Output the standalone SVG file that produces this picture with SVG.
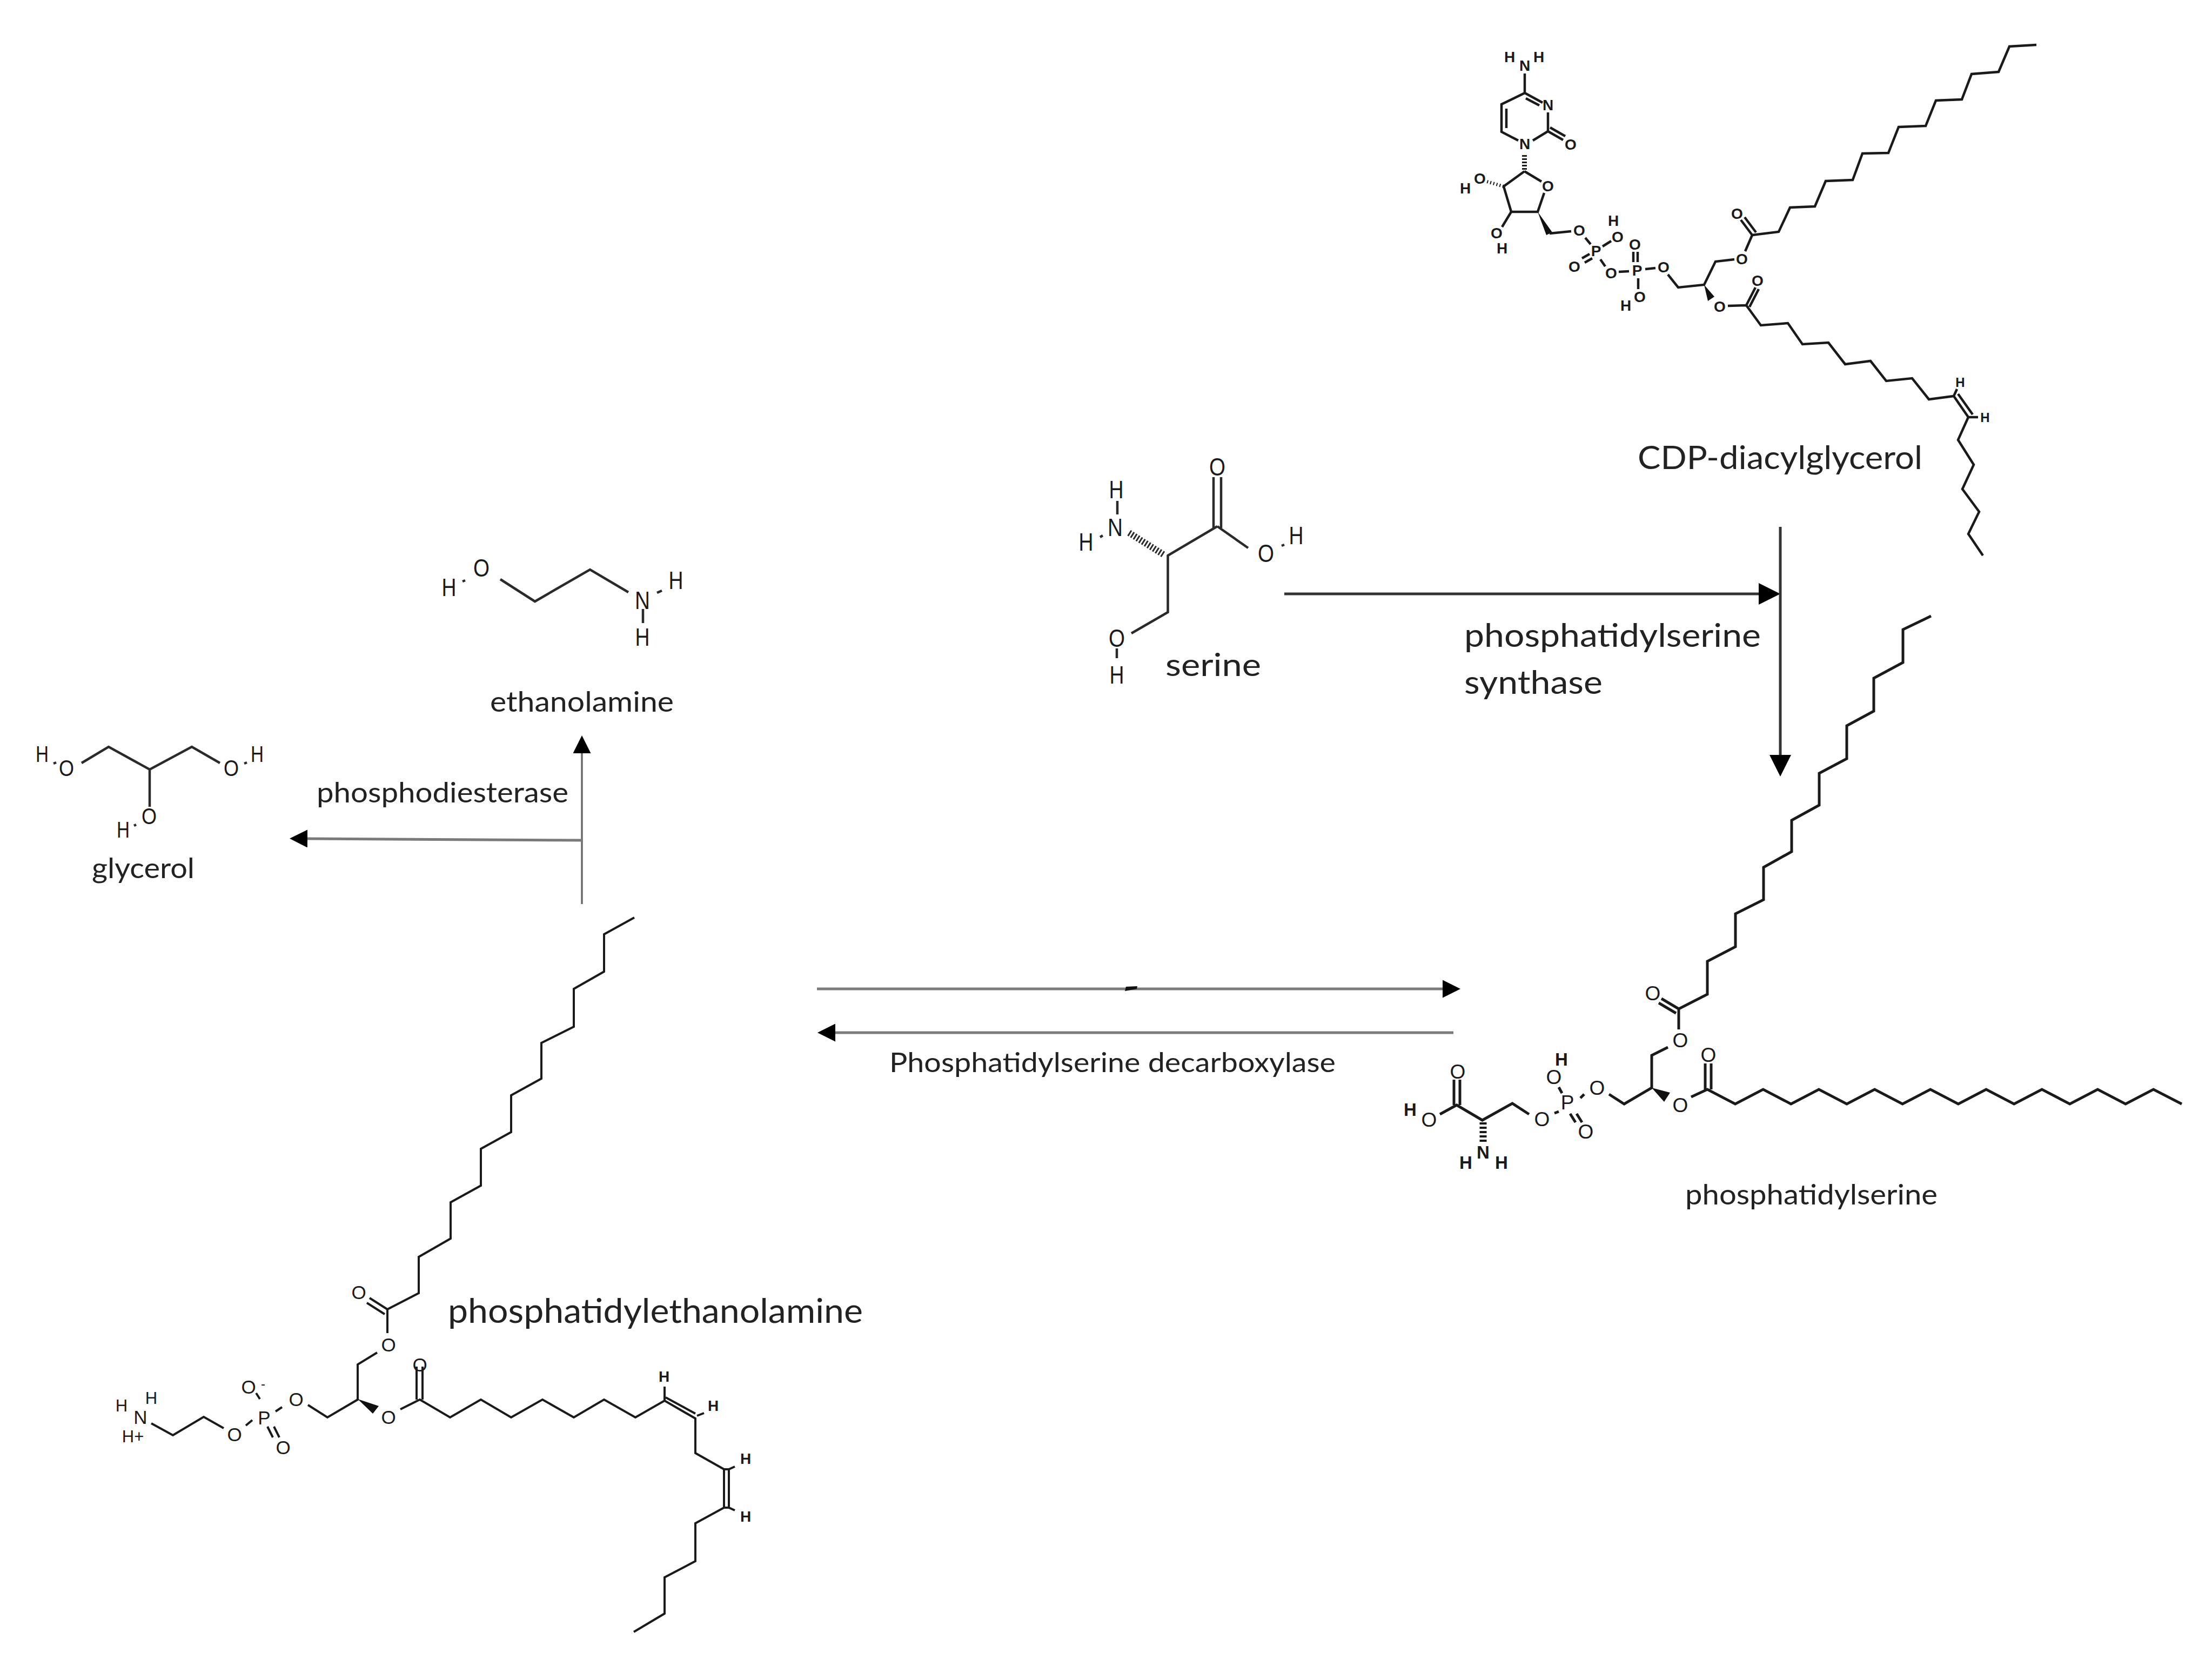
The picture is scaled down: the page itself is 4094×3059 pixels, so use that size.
<svg xmlns="http://www.w3.org/2000/svg" width="4094" height="3059" viewBox="0 0 4094 3059">
<defs>
<marker id="headBig" markerUnits="userSpaceOnUse" viewBox="0 0 40 40" markerWidth="40" markerHeight="40" refX="0" refY="20" orient="auto"><path d="M0 0L40 20L0 40Z" fill="#000"/></marker>
<marker id="headSmall" markerUnits="userSpaceOnUse" viewBox="0 0 33 33" markerWidth="33" markerHeight="33" refX="0" refY="16.5" orient="auto"><path d="M0 0L33 16.5L0 33Z" fill="#000"/></marker>
</defs>
<style>
.bg{fill:#fff}
.b{fill:none;stroke:#1a1a1a;stroke-linejoin:miter;stroke-linecap:butt}
.cdp .b{stroke-width:4.5}
.ps .b{stroke-width:5}
.pe .b{stroke-width:4}
.sm .b{stroke-width:4.5;stroke:#2a2a2a}
.w{fill:#111;stroke:none}
.a{font-family:"Liberation Sans",Arial,sans-serif;text-anchor:middle;dominant-baseline:central;fill:#1a1a1a}
.cdp .a{font-size:28px;font-weight:bold}
.ps .a{font-size:37px}
.pe .a{font-size:35px}
.sm .a{font-size:47px}
.lab{font-family:Lato,"Open Sans",sans-serif;fill:#222}
.c1{fill:none;stroke:#333;stroke-width:5}
.c2{fill:none;stroke:#7a7a7a;stroke-width:5}
.c3{fill:none;stroke:#6a6a6a;stroke-width:3.5}
</style>
<rect class="bg" width="4094" height="3059"/>

<g id="connectors">
<line class="c1" x1="2377" y1="1099" x2="3255" y2="1099" marker-end="url(#headBig)"/>
<line class="c1" x1="3295" y1="975" x2="3295" y2="1397" marker-end="url(#headBig)"/>
<line class="c2" x1="1512" y1="1830" x2="2670" y2="1830" marker-end="url(#headSmall)"/>
<path d="M2082 1834L2084 1826L2105 1825L2104 1830Z" fill="#111"/>
<line class="c2" x1="2690" y1="1911" x2="1546" y2="1911" marker-end="url(#headSmall)"/>
<line class="c3" x1="1077" y1="1673" x2="1077" y2="1394" marker-end="url(#headSmall)"/>
<line class="c2" x1="1079" y1="1555" x2="569" y2="1552" marker-end="url(#headSmall)"/>
</g>

<g id="cdp-diacylglycerol" class="cdp">
<path class="b" d="M2822 136V172L2779 193V244L2810 260M2788 201V237M2822 172L2855 190M2824 182L2849 195M2865 208V243L2837 260M2865 243L2893 259M2869 236L2897 252"/>
<path class="b" d="M2821.5 317L2783 345L2797 392H2846L2858 357M2821.5 317L2853 336"/>
<path class="b" stroke-dasharray="3 3" style="stroke-width:9" d="M2821.5 287V317"/>
<path class="b" stroke-dasharray="2 4" style="stroke-width:6" d="M2783 345L2752 336"/>
<path class="b" d="M2797 392L2780 420"/>
<path class="w" d="M2846 392L2862 435L2873 430Z"/>
<path class="b" d="M2868 432L2908 428M2934 440L2944 452M2966 456L2982 446M2928 478L2942 470M2933 486L2947 478M2962 480L2971 493M2996 503L3015 502M3023 466V485M3031 466V485M3045 498L3064 496M3032 515V535M3087 508L3106 532L3154 527L3175 484L3210 480M3230 465L3243 435M3243 435L3222 407M3250 430L3229 402"/>
<path class="w" d="M3154 527L3161 557L3173 549Z"/>
<path class="b" d="M3243 435L3292 429L3313 384L3359 382L3379 335L3429 333L3447 284L3495 283L3514 235L3564 233L3583 186L3631 184L3649 137L3699 133L3719 86L3769 83"/>
<path class="b" d="M3198 566L3232 565L3259 602L3309 598L3336 637L3384 634L3415 674L3462 668L3491 705L3539 700L3570 739L3616 733L3643 772L3624 814L3653 860L3632 905L3663 947L3643 988L3670 1028M3232 565L3249 532M3238 568L3255 535M3624 729L3651 767M3616 733L3622 720M3643 772L3661 772"/>
<text class="a" x="2794" y="105">H</text><text class="a" x="2848" y="105">H</text><text class="a" x="2822" y="121">N</text>
<text class="a" x="2865" y="194">N</text><text class="a" x="2822" y="266">N</text><text class="a" x="2907" y="267">O</text>
<text class="a" x="2865" y="344">O</text><text class="a" x="2739" y="330">O</text><text class="a" x="2712" y="348">H</text>
<text class="a" x="2770" y="431">O</text><text class="a" x="2780" y="459">H</text><text class="a" x="2923" y="426">O</text>
<text class="a" x="2954" y="464">P</text><text class="a" x="2994" y="438">O</text><text class="a" x="2986" y="408">H</text>
<text class="a" x="2914" y="493">O</text><text class="a" x="2982" y="505">O</text><text class="a" x="3030" y="500">P</text>
<text class="a" x="3026" y="452">O</text><text class="a" x="3079" y="494">O</text><text class="a" x="3035" y="549">O</text>
<text class="a" x="3009" y="565">H</text><text class="a" x="3224" y="479">O</text><text class="a" x="3215" y="395">O</text>
<text class="a" x="3183" y="567">O</text><text class="a" x="3253" y="519">O</text>
<text class="a" x="3628" y="707" style="font-size:24px">H</text><text class="a" x="3674" y="772" style="font-size:24px">H</text>
<text class="lab" x="3031" y="868" font-size="60" textLength="527" lengthAdjust="spacingAndGlyphs">CDP-diacylglycerol</text>
</g>

<g id="serine" class="sm">
<path class="b" d="M2246 883V977M2260 883V977"/>
<path class="b" d="M2253 974L2161.5 1028V1133L2094 1172M2253 974L2310 1014M2068 927V952M2067 1200V1218"/>
<path class="b" stroke-dasharray="3 3" style="stroke-width:12" d="M2153 1026L2088 985"/>
<path class="b" d="M2036 994L2041 991M2372 1010L2377 1008"/>
<text class="a" x="2253" y="863" textLength="30" lengthAdjust="spacingAndGlyphs">O</text><text class="a" x="2343" y="1023" textLength="30" lengthAdjust="spacingAndGlyphs">O</text><text class="a" x="2399" y="990" textLength="27" lengthAdjust="spacingAndGlyphs">H</text>
<text class="a" x="2067" y="1180" textLength="30" lengthAdjust="spacingAndGlyphs">O</text><text class="a" x="2067" y="1248" textLength="27" lengthAdjust="spacingAndGlyphs">H</text><text class="a" x="2064" y="975" textLength="28" lengthAdjust="spacingAndGlyphs">N</text>
<text class="a" x="2066" y="905" textLength="27" lengthAdjust="spacingAndGlyphs">H</text><text class="a" x="2010" y="1002" textLength="27" lengthAdjust="spacingAndGlyphs">H</text>
<text class="lab" x="2157" y="1251" font-size="58" textLength="177" lengthAdjust="spacingAndGlyphs">serine</text>
</g>

<g id="ps-synthase-label">
<text class="lab" x="2710" y="1197" font-size="60" textLength="549" lengthAdjust="spacingAndGlyphs">phosphatidylserine</text>
<text class="lab" x="2710" y="1284" font-size="60" textLength="256" lengthAdjust="spacingAndGlyphs">synthase</text>
</g>

<g id="phosphatidylserine" class="ps">
<path class="b" d="M3574 1140L3522 1165V1226L3468 1255V1316L3418 1343V1404L3367 1431V1490L3316 1518V1576L3264 1605V1665L3212 1691V1752L3160 1779V1840L3107 1867V1905M3107 1867L3075 1848M3102 1875L3070 1856"/>
<path class="b" d="M3087 1938L3057 1953V2013L3006 2043L2978 2025M2932 2025L2925 2032M2891 2023L2885 2012M2885 2057L2877 2060M2906 2061L2916 2077M2918 2061L2928 2077M2830 2062L2799 2042L2743.5 2073L2696 2045L2665 2062M2691 1998V2045M2702 1998V2045"/>
<path class="w" d="M3057 2013L3091 2022L3080 2039Z"/>
<path class="b" stroke-dasharray="4 4" style="stroke-width:13" d="M2745 2077V2117"/>
<path class="b" d="M3130 2030L3160 2016L3211.6 2043L3263.2 2016L3314.8 2043L3366.4 2016L3418 2043L3469.6 2016L3521.2 2043L3572.8 2016L3624.4 2043L3676 2016L3727.6 2043L3779.2 2016L3830.8 2043L3882.4 2016L3934 2043L3985.6 2016L4038 2043M3156 1968V2016M3167 1968V2016"/>
<text class="a" x="3059" y="1838">O</text><text class="a" x="3110" y="1925">O</text><text class="a" x="3162" y="1952">O</text>
<text class="a" x="3110" y="2045">O</text><text class="a" x="2956" y="2013">O</text><text class="a" x="2901" y="2040">P</text>
<text class="a" x="2876" y="1993">O</text><text class="a" x="2890" y="1960" style="font-size:33px;font-weight:bold">H</text><text class="a" x="2935" y="2094">O</text>
<text class="a" x="2854" y="2071">O</text><text class="a" x="2645" y="2072">O</text><text class="a" x="2610" y="2053" style="font-size:33px;font-weight:bold">H</text>
<text class="a" x="2698" y="1983">O</text><text class="a" x="2745" y="2132" style="font-size:33px;font-weight:bold">N</text><text class="a" x="2713" y="2151" style="font-size:33px;font-weight:bold">H</text><text class="a" x="2779" y="2151" style="font-size:33px;font-weight:bold">H</text>
<text class="lab" x="3119" y="2229" font-size="52" textLength="467" lengthAdjust="spacingAndGlyphs">phosphatidylserine</text>
</g>

<g id="decarboxylase-label">
<text class="lab" x="1646" y="1984" font-size="50" textLength="826" lengthAdjust="spacingAndGlyphs">Phosphatidylserine decarboxylase</text>
</g>

<g id="phosphatidylethanolamine" class="pe">
<path class="b" d="M1174 1698L1118 1729V1798L1062 1830V1900L1002 1930V1996L946 2027V2095L890 2126V2194L834 2225V2292L775 2326V2393L717 2423V2467M717 2423L684 2402M712 2432L679 2411"/>
<path class="b" d="M698 2503L662 2525V2590L606 2623L570 2600M522 2604L510 2612M481 2589L474 2578M467 2628L455 2638M495 2640L505 2660M507 2640L517 2660M414 2643L377 2622L320 2656L280 2634"/>
<path class="w" d="M662 2589L701 2602L690 2616Z"/>
<path class="b" d="M741 2608L777 2590L833 2623L890 2590L946 2623L1004 2590L1062 2623L1118 2590L1176 2623L1230 2592L1287 2625V2689L1340 2719V2790M1340 2790L1287 2819V2889L1230 2919V2986L1173 3020M771 2529V2590M782 2529V2590M1232 2586L1287 2616M1230 2592V2566M1290 2620L1303 2615M1349 2719V2790M1340 2719H1349L1360 2714M1340 2790H1349L1360 2795"/>
<text class="a" x="664" y="2391">O</text><text class="a" x="719" y="2488">O</text><text class="a" x="777" y="2525">O</text>
<text class="a" x="719" y="2622">O</text><text class="a" x="548" y="2589">O</text><text class="a" x="489" y="2623">P</text>
<text class="a" x="460" y="2566">O</text><text class="a" x="487" y="2560" style="font-size:24px">-</text><text class="a" x="524" y="2678">O</text><text class="a" x="434" y="2654">O</text>
<text class="a" x="260" y="2622">N</text><text class="a" x="225" y="2601" style="font-size:31px">H</text><text class="a" x="280" y="2587" style="font-size:31px">H</text><text class="a" x="246" y="2658" style="font-size:31px">H+</text>
<text class="a" x="1229" y="2547" style="font-size:28px;font-weight:bold">H</text><text class="a" x="1320" y="2601" style="font-size:28px;font-weight:bold">H</text>
<text class="a" x="1380" y="2699" style="font-size:28px;font-weight:bold">H</text><text class="a" x="1380" y="2806" style="font-size:28px;font-weight:bold">H</text>
<text class="lab" x="829" y="2448" font-size="62" textLength="768" lengthAdjust="spacingAndGlyphs">phosphatidylethanolamine</text>
</g>

<g id="ethanolamine" class="sm">
<path class="b" d="M926 1072L990 1113L1092 1054L1163 1096M1216 1097L1225 1093M1190 1127V1153M856 1076L861 1074"/>
<text class="a" x="831" y="1086" textLength="27" lengthAdjust="spacingAndGlyphs">H</text><text class="a" x="891" y="1050" textLength="30" lengthAdjust="spacingAndGlyphs">O</text><text class="a" x="1189" y="1110" textLength="28" lengthAdjust="spacingAndGlyphs">N</text>
<text class="a" x="1251" y="1073" textLength="27" lengthAdjust="spacingAndGlyphs">H</text><text class="a" x="1189" y="1178" textLength="27" lengthAdjust="spacingAndGlyphs">H</text>
<text class="lab" x="907" y="1317" font-size="52" textLength="340" lengthAdjust="spacingAndGlyphs">ethanolamine</text>
</g>

<g id="phosphodiesterase-label">
<text class="lab" x="586" y="1485" font-size="52" textLength="466" lengthAdjust="spacingAndGlyphs">phosphodiesterase</text>
</g>

<g id="glycerol" class="sm">
<path class="b" d="M151 1412L201 1382L277 1424L355 1382L407 1412M277 1424V1493M99 1413L104 1411M452 1413L457 1411M248 1528L252 1526"/>
<text class="a" x="78" y="1395" style="font-size:42px" textLength="24" lengthAdjust="spacingAndGlyphs">H</text><text class="a" x="123" y="1421" style="font-size:42px" textLength="28" lengthAdjust="spacingAndGlyphs">O</text><text class="a" x="428" y="1421" style="font-size:42px" textLength="28" lengthAdjust="spacingAndGlyphs">O</text>
<text class="a" x="476" y="1395" style="font-size:42px" textLength="24" lengthAdjust="spacingAndGlyphs">H</text><text class="a" x="276" y="1510" style="font-size:42px" textLength="28" lengthAdjust="spacingAndGlyphs">O</text><text class="a" x="228" y="1535" style="font-size:42px" textLength="24" lengthAdjust="spacingAndGlyphs">H</text>
<text class="lab" x="170" y="1625" font-size="52" textLength="190" lengthAdjust="spacingAndGlyphs">glycerol</text>
</g>
</svg>
